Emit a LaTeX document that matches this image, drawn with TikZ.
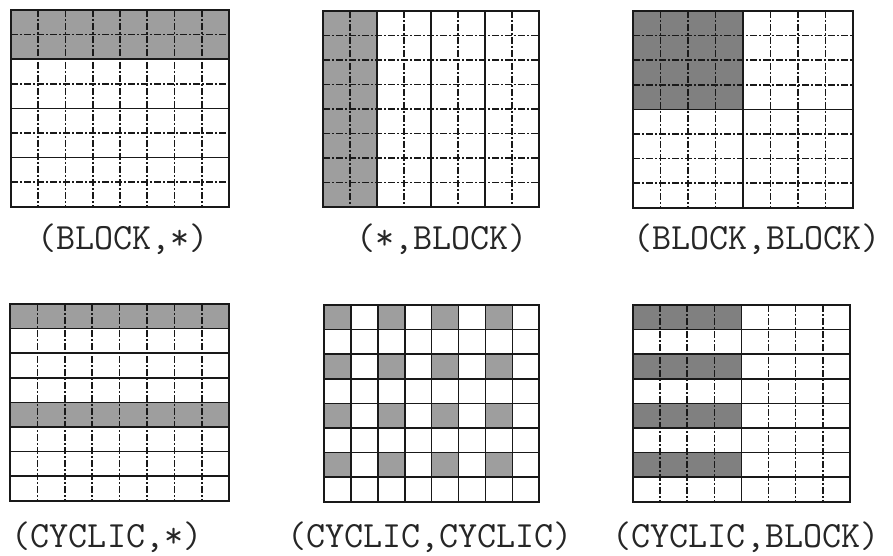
\documentclass[tikz,border=0pt]{standalone}
\tikzset{
  solidline/.style={line width=1.6pt, draw=black!90},
  dotline/.style={line width=1.6pt, draw=black!90, dash pattern=on 7pt off 2pt on 2pt off 2pt},
  shadeA/.style={fill=black!38},
  shadeB/.style={fill=black!50},
  lab/.style={font=\ttfamily\fontsize{37}{37}\selectfont, inner sep=0pt, anchor=base, text=black!85}
}
\begin{document}
\begin{tikzpicture}[x=1pt,y=-1pt]
\useasboundingbox (0,0) rectangle (893,556);
\fill[white] (0,0) rectangle (893,556);

% (BLOCK,*)
\begin{scope}[shift={(11,10)}, x=27.25pt, y=-24.6pt]
  \fill[shadeA] (0,0) rectangle (8,2);
  \foreach \i in {1,3,5,7} \draw[dotline] (0,\i) -- (8,\i);
  \foreach \i in {1,...,7} \draw[dotline] (\i,0) -- (\i,8);
  \foreach \i in {2,4,6} \draw[solidline] (0,\i) -- (8,\i);
  \draw[solidline] (0,0) rectangle (8,8);
\end{scope}

% (*,BLOCK)
\begin{scope}[shift={(323,11)}, x=27pt, y=-24.5pt]
  \fill[shadeA] (0,0) rectangle (2,8);
  \foreach \i in {1,3,5,7} \draw[dotline] (\i,0) -- (\i,8);
  \foreach \i in {1,...,7} \draw[dotline] (0,\i) -- (8,\i);
  \foreach \i in {2,4,6} \draw[solidline] (\i,0) -- (\i,8);
  \draw[solidline] (0,0) rectangle (8,8);
\end{scope}

% (BLOCK,BLOCK)
\begin{scope}[shift={(633,11)}, x=27.5pt, y=-24.6pt]
  \fill[shadeB] (0,0) rectangle (4,4);
  \foreach \i in {1,2,3,5,6,7} \draw[dotline] (\i,0) -- (\i,8);
  \foreach \i in {1,2,3,5,6,7} \draw[dotline] (0,\i) -- (8,\i);
  \draw[solidline] (4,0) -- (4,8);
  \draw[solidline] (0,4) -- (8,4);
  \draw[solidline] (0,0) rectangle (8,8);
\end{scope}

% (CYCLIC,*)
\begin{scope}[shift={(10,304)}, x=27.4pt, y=-24.6pt]
  \fill[shadeA] (0,0) rectangle (8,1);
  \fill[shadeA] (0,4) rectangle (8,5);
  \foreach \i in {1,...,7} \draw[dotline] (\i,0) -- (\i,8);
  \foreach \i in {1,...,7} \draw[solidline] (0,\i) -- (8,\i);
  \draw[solidline] (0,0) rectangle (8,8);
\end{scope}

% (CYCLIC,CYCLIC)
\begin{scope}[shift={(324,305)}, x=26.9pt, y=-24.6pt]
  \foreach \r in {0,2,4,6}
    \foreach \c in {0,2,4,6}
      \fill[shadeA] (\c,\r) rectangle ++(1,1);
  \foreach \i in {1,...,7} \draw[solidline] (\i,0) -- (\i,8);
  \foreach \i in {1,...,7} \draw[solidline] (0,\i) -- (8,\i);
  \draw[solidline] (0,0) rectangle (8,8);
\end{scope}

% (CYCLIC,BLOCK)
\begin{scope}[shift={(633,305)}, x=27.1pt, y=-24.6pt]
  \foreach \r in {0,2,4,6}
    \fill[shadeB] (0,\r) rectangle ++(4,1);
  \foreach \i in {1,2,3,5,6,7} \draw[dotline] (\i,0) -- (\i,8);
  \draw[solidline] (4,0) -- (4,8);
  \foreach \i in {1,...,7} \draw[solidline] (0,\i) -- (8,\i);
  \draw[solidline] (0,0) rectangle (8,8);
\end{scope}

\node[lab] (l1) at (123,249) {(BLOCK,*)};
\node[lab] (l2) at (442,249) {(*,BLOCK)};
\node[lab] (l3) at (757,249) {(BLOCK,BLOCK)};
\node[lab] (l4) at (107,547) {(CYCLIC,*)};
\node[lab] (l5) at (430,547) {(CYCLIC,CYCLIC)};
\node[lab] (l6) at (746,547) {(CYCLIC,BLOCK)};
\end{tikzpicture}
\end{document}
